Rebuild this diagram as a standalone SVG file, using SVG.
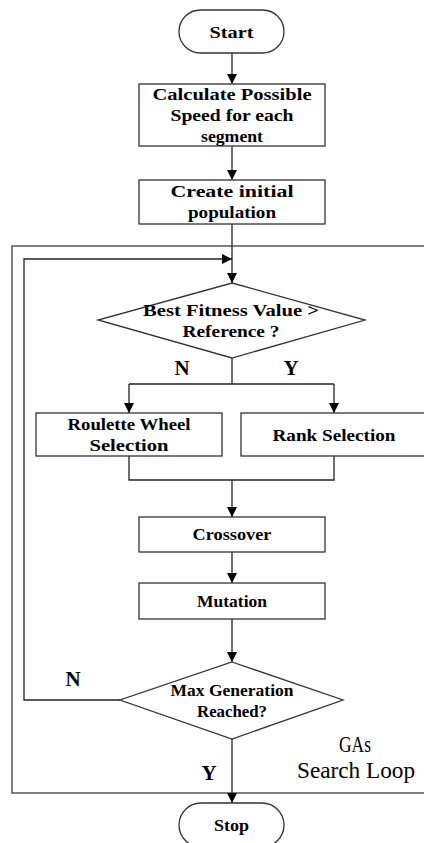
<svg xmlns="http://www.w3.org/2000/svg" width="424" height="843" viewBox="0 0 424 843">
<style>
.s{fill:#fff;stroke:#333;stroke-width:1.3}
.c{fill:none;stroke:#222;stroke-width:1.3}
.t{font-family:"Liberation Serif","Noto Sans CJK SC",serif;font-weight:bold;font-size:17.5px;fill:#000;text-anchor:middle;dominant-baseline:central}
.l{font-family:"Liberation Serif",serif;font-weight:bold;font-size:21px;fill:#000;text-anchor:middle;dominant-baseline:central}
.g{font-family:"Liberation Serif",serif;font-size:24px;fill:#000;text-anchor:middle;dominant-baseline:central}
</style>
<defs>
<marker id="a" viewBox="0 0 10 10" refX="10" refY="5" markerWidth="10" markerHeight="10" markerUnits="userSpaceOnUse" orient="auto">
<path d="M0,0 L10,5 L0,10 Z" fill="#000"/>
</marker>
</defs>
<rect id="frame" x="12" y="246" width="420" height="547" fill="none" stroke="#555" stroke-width="1.5"/>
<g id="connectors">
<path class="c" d="M232,53 V84" marker-end="url(#a)"/>
<path class="c" d="M232,146 V180" marker-end="url(#a)"/>
<path class="c" d="M232,224 V283" marker-end="url(#a)"/>
<path class="c" d="M232,358 V384 M129,384 H334"/>
<path class="c" d="M129,384 V413" marker-end="url(#a)"/>
<path class="c" d="M334,384 V413" marker-end="url(#a)"/>
<path class="c" d="M129,456 V480 H334 V456"/>
<path class="c" d="M232,480 V517" marker-end="url(#a)"/>
<path class="c" d="M232,552 V583" marker-end="url(#a)"/>
<path class="c" d="M232,619 V662" marker-end="url(#a)"/>
<path class="c" d="M120,700 H24 V259 H232" marker-end="url(#a)"/>
<path class="c" d="M232,739 V803" marker-end="url(#a)"/>
</g>
<g id="start"><rect class="s" x="179" y="10" width="105" height="43" rx="21.5"/><text class="t" x="231.5" y="32" textLength="44" lengthAdjust="spacingAndGlyphs">Start</text></g>
<g id="calc"><rect class="s" x="139" y="84" width="186" height="62"/>
<text class="t" x="232" y="94" textLength="159" lengthAdjust="spacingAndGlyphs">Calculate Possible</text>
<text class="t" x="232" y="115" textLength="123" lengthAdjust="spacingAndGlyphs">Speed for each</text>
<text class="t" x="232" y="136" textLength="62" lengthAdjust="spacingAndGlyphs">segment</text></g>
<g id="create"><rect class="s" x="139" y="180" width="186" height="44"/>
<text class="t" x="232" y="191" textLength="123" lengthAdjust="spacingAndGlyphs">Create initial</text>
<text class="t" x="232" y="212" textLength="88" lengthAdjust="spacingAndGlyphs">population</text></g>
<g id="fitness"><polygon class="s" points="232,283 365,320 232,358 98,320"/>
<text class="t" x="231" y="310" textLength="176" lengthAdjust="spacingAndGlyphs">Best Fitness Value &gt;</text>
<text class="t" x="231" y="331" textLength="97" lengthAdjust="spacingAndGlyphs">Reference ?</text></g>
<text class="l" x="182" y="368">N</text>
<text class="l" x="291" y="368">Y</text>
<g id="roulette"><rect class="s" x="36" y="413" width="186" height="43"/>
<text class="t" x="129" y="424" textLength="123" lengthAdjust="spacingAndGlyphs">Roulette Wheel</text>
<text class="t" x="129" y="445" textLength="79" lengthAdjust="spacingAndGlyphs">Selection</text></g>
<g id="rank"><rect class="s" x="241" y="413" width="186" height="43"/>
<text class="t" x="334" y="435" textLength="123" lengthAdjust="spacingAndGlyphs">Rank Selection</text></g>
<g id="crossover"><rect class="s" x="139" y="517" width="186" height="35"/>
<text class="t" x="232" y="534" textLength="79" lengthAdjust="spacingAndGlyphs">Crossover</text></g>
<g id="mutation"><rect class="s" x="139" y="583" width="186" height="36"/>
<text class="t" x="232" y="601" textLength="70" lengthAdjust="spacingAndGlyphs">Mutation</text></g>
<g id="maxgen"><polygon class="s" points="232,662 343,700 232,739 120,700"/>
<text class="t" x="232" y="690" textLength="123" lengthAdjust="spacingAndGlyphs">Max Generation</text>
<text class="t" x="232" y="711" textLength="70" lengthAdjust="spacingAndGlyphs">Reached?</text></g>
<text class="l" x="73" y="679">N</text>
<text class="l" x="209" y="773">Y</text>
<g id="label"><text class="g" x="355" y="744" textLength="32" lengthAdjust="spacingAndGlyphs">GAs</text>
<text class="g" x="356" y="770" textLength="118" lengthAdjust="spacingAndGlyphs">Search Loop</text></g>
<g id="stop"><rect class="s" x="179" y="803" width="105" height="44" rx="22"/>
<text class="t" x="231.5" y="825" textLength="35" lengthAdjust="spacingAndGlyphs">Stop</text></g>
</svg>
